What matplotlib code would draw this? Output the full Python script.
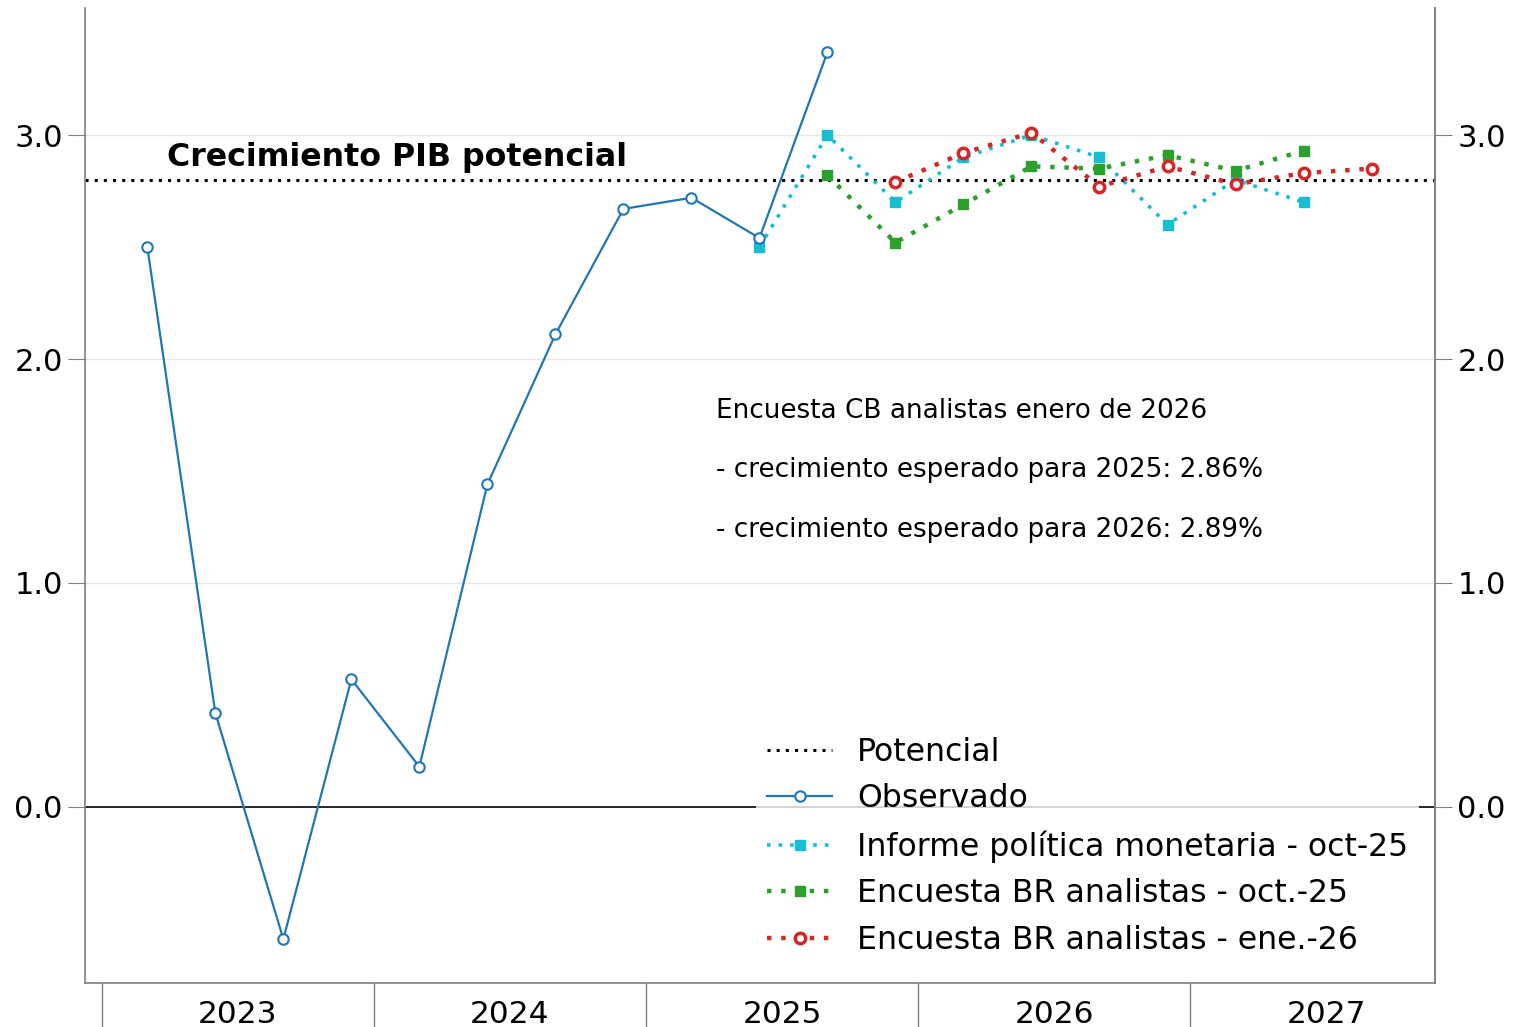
import matplotlib
matplotlib.use("Agg")
import matplotlib.pyplot as plt
import numpy as np

# ---- data ----
quarters = ["2023Q1", "2023Q2", "2023Q3", "2023Q4",
            "2024Q1", "2024Q2", "2024Q3", "2024Q4",
            "2025Q1", "2025Q2", "2025Q3", "2025Q4",
            "2026Q1", "2026Q2", "2026Q3", "2026Q4",
            "2027Q1", "2027Q2", "2027Q3"]
observado = [2.50, 0.42, -0.59, 0.57, 0.18, 1.44, 2.11, 2.67, 2.72, 2.54, 3.37]
ipm_oct25 = [2.50, 3.00, 2.70, 2.90, 3.00, 2.90, 2.60, 2.80, 2.70]          # from 2025Q2
br_oct25 = [2.82, 2.52, 2.69, 2.86, 2.85, 2.91, 2.84, 2.93]                 # from 2025Q3
br_ene26 = [2.79, 2.92, 3.01, 2.77, 2.86, 2.78, 2.83, 2.85]                 # from 2025Q4
potencial = 2.8
years = [2023, 2024, 2025, 2026, 2027]
yticks = [0.0, 1.0, 2.0, 3.0]
legend_labels = ["Potencial", "Observado", "Informe política monetaria - oct-25",
                 "Encuesta BR analistas - oct.-25", "Encuesta BR analistas - ene.-26"]
annot_lines = ["Encuesta CB analistas enero de 2026",
               "- crecimiento esperado para 2025: 2.86%",
               "- crecimiento esperado para 2026: 2.89%"]


def qpos(q):
    y = int(q[:4]); n = int(q[-1]) - 1
    return y + (3 * n + 2) / 12.0

x_all = np.array([qpos(q) for q in quarters])
x_obs = x_all[:len(observado)]
x_ipm = x_all[9:9 + len(ipm_oct25)]
x_bro = x_all[10:10 + len(br_oct25)]
x_bre = x_all[11:11 + len(br_ene26)]

fig = plt.figure(figsize=(15.2, 10.27), dpi=100)
ax = fig.add_axes([0.0559, 0.0428, 0.8882, 0.9494])

gray = "#808080"
ax.set_xlim(2022.9375, 2027.90)
ax.set_ylim(-0.786, 3.567)

for v in yticks:
    if v != 0:
        ax.axhline(v, color="#e6e6e6", lw=1.0, zorder=0)
ax.axhline(0, color="black", lw=1.2, zorder=1)

l_pot = ax.axhline(potencial, color="black", ls=(0, (1, 2)), lw=2.2, zorder=2)
l_obs, = ax.plot(x_obs, observado, color="#1f77b4", lw=1.6, marker="o", ms=7.5,
                 mfc="white", mec="#1f77b4", mew=1.5, zorder=5)
l_ipm, = ax.plot(x_ipm, ipm_oct25, color="#17becf", lw=2.6, ls=(0, (1, 2.2)),
                 marker="s", ms=7, mfc="#17becf", mec="#17becf", zorder=3)
l_bro, = ax.plot(x_bro, br_oct25, color="#2ca02c", lw=3.2, ls=(0, (1, 2.2)),
                 marker="s", ms=7, mfc="#2ca02c", mec="#2ca02c", zorder=3)
l_bre, = ax.plot(x_bre, br_ene26, color="#d62728", lw=3.2, ls=(0, (1, 2.2)),
                 marker="o", ms=7.5, mfc="white", mec="#d62728", mew=2.5, zorder=4)

ax.text(2023.24, 2.90, "Crecimiento PIB potencial", fontsize=22.8, fontweight="bold",
        ha="left", va="center")
for i, t in enumerate(annot_lines):
    ax.text(2025.257, 1.768 - i * 0.265, t, fontsize=18.9, ha="left", va="center")

# axes styling
ax.spines["top"].set_visible(False)
for s in ["left", "bottom", "right"]:
    ax.spines[s].set_color(gray)
    ax.spines[s].set_linewidth(1.2)

ax.set_yticks(yticks)
ax.set_yticklabels([f"{v:.1f}" for v in yticks])
ax.tick_params(axis="y", which="major", length=12, color=gray, labelsize=22, pad=4)

ax.set_xticks(years)
ax.set_xticklabels([])
ax.set_xticks([y + 0.5 for y in years], minor=True)
ax.set_xticklabels([str(y) for y in years], minor=True)
ax.tick_params(axis="x", which="major", length=45, color=gray, width=1.0)
ax.tick_params(axis="x", which="minor", length=0, labelsize=22.5, pad=12)

ax2 = ax.twinx()
ax2.set_ylim(ax.get_ylim())
ax2.set_yticks(yticks)
ax2.set_yticklabels([f"{v:.1f}" for v in yticks])
ax2.tick_params(axis="y", length=12, color=gray, labelsize=22, pad=4)
for s in ["top", "left", "bottom"]:
    ax2.spines[s].set_visible(False)
ax2.spines["right"].set_color(gray)
ax2.spines["right"].set_linewidth(1.2)

leg = ax2.legend([l_pot, l_obs, l_ipm, l_bro, l_bre], legend_labels, loc="lower right",
                 fontsize=22.7, frameon=True, framealpha=0.8, edgecolor="none",
                 handlelength=2.05, handletextpad=0.8, labelspacing=0.5, borderpad=0.35)
leg.get_frame().set_facecolor("white")

fig.savefig("out.png", dpi=100)
